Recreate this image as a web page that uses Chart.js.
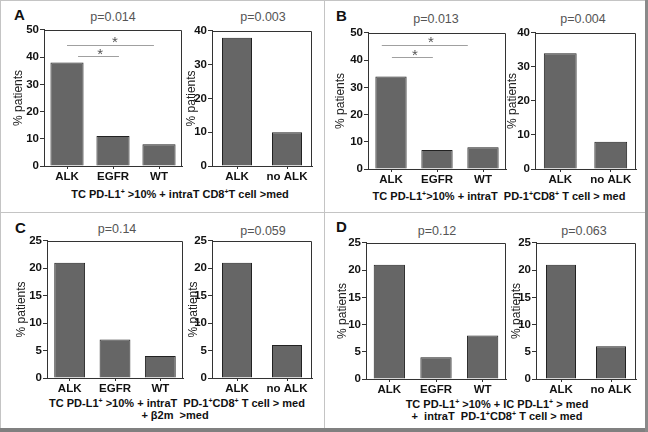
<!DOCTYPE html>
<html>
<head>
<meta charset="utf-8">
<script src="https://cdn.jsdelivr.net/npm/chart.js@4.4.1/dist/chart.umd.min.js"></script>
<style>
  html, body { margin:0; padding:0; background:#fff; }
  #wrap { position:relative; width:648px; height:432px; background:#fff; overflow:hidden; font-family:"Liberation Sans", Arial, sans-serif; }
  .ln { position:absolute; }
  .txt { position:absolute; transform:translate(-50%,-50%); white-space:pre; line-height:1; }
  .letter { position:absolute; font-weight:bold; font-size:15px; color:#111; line-height:1; }
  .pv { font-size:12.5px; color:#555; }
  .cap { font-size:11px; font-weight:bold; color:#111; }
  .cap sup { font-size:7px; vertical-align:4px; line-height:0; }
  .cv { position:absolute; }
</style>
</head>
<body>
<div id="wrap"></div>
<script>
// ---------------- data ----------------
const groupsThree = ['ALK', 'EGFR', 'WT'];
const groupsTwo = ['ALK', 'no ALK'];
const panelLetters = ['A', 'B', 'C', 'D'];
const pValuesThree = ['p=0.014', 'p=0.013', 'p=0.14', 'p=0.12'];
const pValuesTwo = ['p=0.003', 'p=0.004', 'p=0.059', 'p=0.063'];
const valuesA3 = [38, 11, 8];
const valuesA2 = [38, 10];
const valuesB3 = [34, 7, 8];
const valuesB2 = [34, 8];
const valuesC3 = [21, 7, 4];
const valuesC2 = [21, 6];
const valuesD3 = [21, 4, 8];
const valuesD2 = [21, 6];
const yMaxThree = [50, 50, 25, 25];
const yMaxTwo = [40, 40, 25, 25];
const yStep = [10, 10, 5, 5];
const yTitle = '% patients';
const captions = [
  ['TC PD-L1<sup>+</sup> >10% + intraT CD8<sup>+</sup>T cell >med'],
  ['TC PD-L1<sup>+</sup>>10% + intraT  PD-1<sup>+</sup>CD8<sup>+</sup> T cell > med'],
  ['TC PD-L1<sup>+</sup> >10% + intraT  PD-1<sup>+</sup>CD8<sup>+</sup> T cell > med', '+ β2m  >med'],
  ['TC PD-L1<sup>+</sup> >10% + IC PD-L1<sup>+</sup> > med', '+  intraT  PD-1<sup>+</sup>CD8<sup>+</sup> T cell > med']
];
// significance brackets (category-index span, y value of line, star position)
const sigA = [
  { from: 0.0, to: 1.89, y: 44.5, starX: 1.04, starY: 47 },
  { from: 0.24, to: 1.13, y: 40.5, starX: 0.72, starY: 42.7 }
];
const sigB = [
  { from: -0.2, to: 1.67, y: 45.7, starX: 0.87, starY: 48.2 },
  { from: 0.02, to: 0.91, y: 41.2, starX: 0.52, starY: 43.4 }
];

// ---------------- layout ----------------
const wrap = document.getElementById('wrap');
function addDiv(cls, style, html) {
  const d = document.createElement('div');
  d.className = cls;
  Object.assign(d.style, style);
  if (html !== undefined) d.innerHTML = html;
  wrap.appendChild(d);
  return d;
}
// frame lines
addDiv('ln', { left:'0px', top:'0px', width:'648px', height:'1px', background:'#c4c4c4' });
addDiv('ln', { left:'0px', top:'0px', width:'1px', height:'432px', background:'#c4c4c4' });
addDiv('ln', { left:'324px', top:'0px', width:'1px', height:'432px', background:'#c4c4c4' });
addDiv('ln', { left:'0px', top:'212px', width:'648px', height:'1px', background:'#c4c4c4' });
addDiv('ln', { left:'0px', top:'428px', width:'648px', height:'4px', background:'#808080' });
addDiv('ln', { left:'645px', top:'0px', width:'3px', height:'432px', background:'#8a8a8a' });

const letterPos = [[14, 7], [336, 8], [15, 220], [336, 219]];
panelLetters.forEach((l, i) => addDiv('letter', { left: letterPos[i][0] + 'px', top: letterPos[i][1] + 'px' }, l));

const pvThreePos = [[113, 17], [436, 19], [117, 229], [437, 231]];
const pvTwoPos = [[263, 17], [583, 19], [263, 231], [584, 231]];
pValuesThree.forEach((p, i) => addDiv('txt pv', { left: pvThreePos[i][0] + 'px', top: pvThreePos[i][1] + 'px' }, p));
pValuesTwo.forEach((p, i) => addDiv('txt pv', { left: pvTwoPos[i][0] + 'px', top: pvTwoPos[i][1] + 'px' }, p));

const capPos = [[[180, 194]], [[499, 196]], [[177, 403], [175, 415]], [[497, 404], [497, 416]]];
captions.forEach((lines, i) => lines.forEach((t, j) =>
  addDiv('txt cap', { left: capPos[i][j][0] + 'px', top: capPos[i][j][1] + 'px' }, t)));

const boxes = [
  { axis:44,  top:29,  right:182, bottom:166, yw:33 },
  { axis:212, top:30,  right:312, bottom:166, yw:28 },
  { axis:368, top:32,  right:506, bottom:169, yw:35 },
  { axis:535, top:32,  right:636, bottom:169, yw:30 },
  { axis:47,  top:240, right:183, bottom:378, yw:33 },
  { axis:212, top:240, right:312, bottom:378, yw:26 },
  { axis:366, top:242, right:506, bottom:379, yw:31 },
  { axis:536, top:242, right:636, bottom:379, yw:27 }
];

const PAD_TOP = 7, PAD_RIGHT = 2, XH = 22;
const FONT = '"Liberation Sans", Arial, sans-serif';

const framePlugin = {
  id: 'frame',
  afterDraw(chart, args, opts) {
    const { ctx, chartArea: a } = chart;
    ctx.save();
    ctx.strokeStyle = '#333';
    ctx.lineWidth = 1;
    ctx.beginPath();
    ctx.moveTo(Math.round(a.left) + 0.5, Math.round(a.top) + 0.5);
    ctx.lineTo(Math.round(a.right) - 0.5, Math.round(a.top) + 0.5);
    ctx.lineTo(Math.round(a.right) - 0.5, Math.round(a.bottom));
    ctx.stroke();
    const sig = opts && opts.sig;
    if (sig) {
      const xs = chart.scales.x, ys = chart.scales.y;
      const p0 = xs.getPixelForValue(0), p1 = xs.getPixelForValue(1);
      const px = v => p0 + (p1 - p0) * v;
      ctx.strokeStyle = '#a0a0a0';
      ctx.fillStyle = '#555';
      ctx.font = '15px ' + FONT;
      ctx.textAlign = 'center';
      ctx.textBaseline = 'alphabetic';
      sig.forEach(s => {
        const y = Math.round(ys.getPixelForValue(s.y)) + 0.5;
        ctx.beginPath();
        ctx.moveTo(px(s.from), y);
        ctx.lineTo(px(s.to), y);
        ctx.stroke();
        ctx.fillText('*', px(s.starX), ys.getPixelForValue(s.starY) + 9);
      });
    }
    ctx.restore();
  }
};

function makeChart(box, labels, values, ymax, step, barPct, sig) {
  const w = box.yw + (box.right - box.axis) + PAD_RIGHT;
  const h = PAD_TOP + (box.bottom - box.top) + XH;
  const c = document.createElement('canvas');
  c.className = 'cv';
  c.width = w; c.height = h;
  c.style.left = (box.axis - box.yw) + 'px';
  c.style.top = (box.top - PAD_TOP) + 'px';
  c.style.width = w + 'px'; c.style.height = h + 'px';
  wrap.appendChild(c);
  new Chart(c, {
    type: 'bar',
    data: {
      labels: labels,
      datasets: [{
        data: values,
        backgroundColor: '#666666',
        borderColor: '#222',
        borderWidth: 1,
        barPercentage: barPct,
        categoryPercentage: 1
      }]
    },
    options: {
      responsive: false,
      animation: false,
      devicePixelRatio: 1,
      layout: { padding: { top: PAD_TOP, right: PAD_RIGHT, left: 0, bottom: 0 } },
      plugins: {
        legend: { display: false },
        tooltip: { enabled: false },
        title: { display: false },
        frame: { sig: sig }
      },
      scales: {
        x: {
          ticks: { font: { family: FONT, size: 11.5, weight: 'bold' }, color: '#111', padding: 1, maxRotation: 0 },
          grid: { display: true, drawOnChartArea: false, drawTicks: true, tickLength: 3, offset: false, color: '#333' },
          border: { display: true, color: '#333', width: 1 },
          afterFit: s => { s.height = XH; }
        },
        y: {
          min: 0, max: ymax,
          ticks: { stepSize: step, font: { family: FONT, size: 11.5, weight: 'bold' }, color: '#111', padding: 1 },
          grid: { display: true, drawOnChartArea: false, drawTicks: true, tickLength: 4, color: '#333' },
          border: { display: true, color: '#333', width: 1 },
          title: { display: true, text: yTitle, font: { family: FONT, size: 12 }, color: '#222', padding: 0 },
          afterFit: s => { s.width = box.yw; }
        }
      }
    },
    plugins: [framePlugin]
  });
}

makeChart(boxes[0], groupsThree, valuesA3, yMaxThree[0], yStep[0], 0.72, sigA);
makeChart(boxes[1], groupsTwo, valuesA2, yMaxTwo[0], yStep[0], 0.6, null);
makeChart(boxes[2], groupsThree, valuesB3, yMaxThree[1], yStep[1], 0.68, sigB);
makeChart(boxes[3], groupsTwo, valuesB2, yMaxTwo[1], yStep[1], 0.65, null);
makeChart(boxes[4], groupsThree, valuesC3, yMaxThree[2], yStep[2], 0.68, null);
makeChart(boxes[5], groupsTwo, valuesC2, yMaxTwo[2], yStep[2], 0.6, null);
makeChart(boxes[6], groupsThree, valuesD3, yMaxThree[3], yStep[3], 0.67, null);
makeChart(boxes[7], groupsTwo, valuesD2, yMaxTwo[3], yStep[3], 0.6, null);
</script>
</body>
</html>
